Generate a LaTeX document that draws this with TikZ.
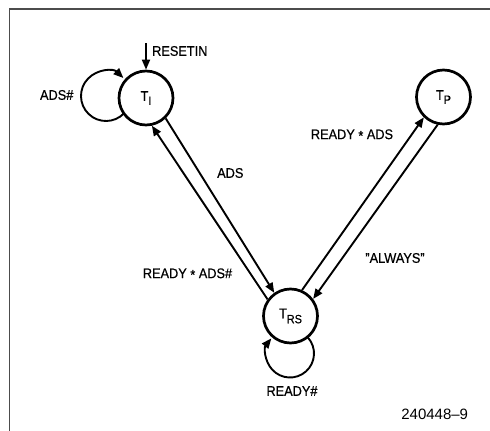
\documentclass[tikz,border=0pt]{standalone}
\usepackage{fontspec}
\setmainfont{Liberation Sans}[FakeStretch=0.91,FakeBold=0.6]
\newfontfamily\numfont{Liberation Sans}
\usetikzlibrary{arrows.meta}
\newcommand\labfont{\fontsize{14}{16}\selectfont}
\newcommand\subfont{\fontsize{12}{12}\selectfont}
\newcommand\mystar{\raisebox{-1.5pt}{*}}
\begin{document}
\begin{tikzpicture}[x=1pt,y=-1pt,
  state/.style={circle,draw,line width=2.7pt,minimum size=54pt,inner sep=0pt,font=\labfont},
  conn/.style={line width=1.9pt,-{Triangle[length=10pt,width=8pt]}},
  lbl/.style={inner sep=0pt,font=\labfont}]
\useasboundingbox (0,0) rectangle (490,431);
\draw[line width=1.4pt, black!70] (9.5,431) -- (9.5,9) -- (490,9);

\node[state] (TI) at (146,98) {T\raisebox{-4pt}{\subfont I}};
\node[state] (TP) at (443.5,97) {T\raisebox{-4pt}{\subfont P}};
\node[state] (TRS) at (290.5,316) {T\raisebox{-5pt}{\subfont RS}};

\draw[conn] (TI.-46) -- (TRS.125);
\draw[conn] (TRS.144) -- (TI.-78);
\draw[conn] (TRS.66) -- (TP.-134);
\draw[conn] (TP.-102) -- (TRS.37);

\coordinate (rs) at (146,43);
\draw[conn] (rs) -- (TI.north);
\node[lbl,anchor=west] (rsl) at (152,51) {RESETIN};

\coordinate (LI) at (106,96);
\draw[conn] ([shift={(44:25)}]LI) arc[start angle=44,end angle=314,radius=25];
\coordinate (LRS) at (290,353.5);
\draw[conn] ([shift={(-41.8:24)}]LRS) arc[start angle=-41.8,end angle=219,radius=24];

\node[lbl] (l1) at (56.7,95) {ADS\#};
\node[lbl] (l2) at (230.3,173) {ADS};
\node[lbl] (l3) at (187.5,274) {READY \mystar\ ADS\#};
\node[lbl] (l4) at (352,135) {READY \mystar\ ADS};
\node[lbl] (l5) at (395,258) {\symbol{34}ALWAYS\symbol{34}};
\node[lbl] (l6) at (292,391) {READY\#};
\node[inner sep=0pt,font={\numfont\fontsize{15}{17}\selectfont}] (fig) at (434.7,414) {240448\textendash9};
\end{tikzpicture}
\end{document}
